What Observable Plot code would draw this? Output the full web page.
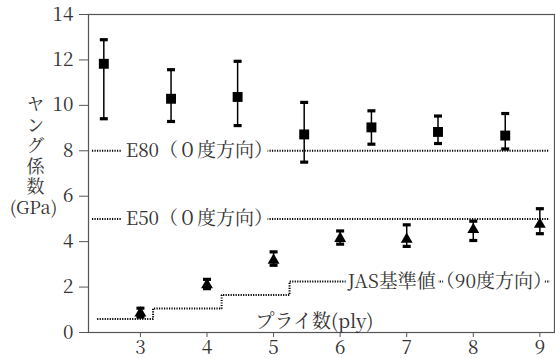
<!DOCTYPE html>
<html>
<head>
<meta charset="utf-8">
<script src="https://cdn.jsdelivr.net/npm/d3@7"></script>
<script src="https://cdn.jsdelivr.net/npm/@observablehq/plot@0.6"></script>
<style>
  html, body { margin: 0; padding: 0; background: #fff; }
  #chart svg { display: block; }
  #chart svg, #chart svg text {
    font-family: "Noto Serif CJK JP", "Liberation Serif", serif !important;
  }
</style>
</head>
<body>
<div id="chart"></div>
<script>
// ---- data ----
const xTicks = [3, 4, 5, 6, 7, 8, 9];
const yTicks = [0, 2, 4, 6, 8, 10, 12, 14];

// 0-degree direction (squares), slightly left of each ply
const sqX   = [2.45, 3.46, 4.46, 5.46, 6.47, 7.47, 8.48];
const sqY   = [11.83, 10.29, 10.37, 8.72, 9.03, 8.83, 8.67];
const sqLo  = [9.41, 9.29, 9.11, 7.5, 8.29, 8.32, 8.08];
const sqHi  = [12.89, 11.57, 11.94, 10.13, 9.76, 9.53, 9.64];

// 90-degree direction (triangles)
const triX  = [3, 4, 5, 6, 7, 8, 9];
const triY  = [0.85, 2.1, 3.18, 4.14, 4.1, 4.53, 4.76];
const triLo = [0.68, 1.93, 2.96, 3.89, 3.79, 4.05, 4.35];
const triHi = [1.07, 2.34, 3.55, 4.47, 4.74, 4.9, 5.45];

// reference lines E80 / E50 (0-degree)
const refNames  = ["E80（０度方向）", "E50（０度方向）"];
const refValues = [8, 5];
const refStart = 2.28, refEnd = 9.15, refLabelX = 2.78;

// JAS standard (90-degree), stepped
const jasX = [2.35, 3.19, 4.22, 5.24, 9.15];
const jasY = [0.59, 1.06, 1.65, 2.24, 2.24];
const jasName = "JAS基準値（90度方向）";
const jasLabelX = 6.11;

const yLabel = "ヤング係数";
const yUnit = "(GPa)";
const xLabel = "プライ数(ply)";

// ---- build ----
const squares = sqX.map((x, i) => ({x, y: sqY[i], lo: sqLo[i], hi: sqHi[i]}));
const triangles = triX.map((x, i) => ({x, y: triY[i], lo: triLo[i], hi: triHi[i]}));
const refs = refNames.map((name, i) => ({name, v: refValues[i]}));
const jas = jasX.map((x, i) => ({x, y: jasY[i]}));

const capSymbol = {
  draw(ctx) { ctx.rect(-4, -1.6, 8, 3.2); }
};

const dotted = {stroke: "black", strokeWidth: 2, strokeDasharray: "1.2,1.3", strokeLinecap: "butt", strokeLinejoin: "miter"};
const serif = "Noto Serif CJK JP, Liberation Serif, serif";
const ink = "#333";

const chart = Plot.plot({
  width: 555,
  height: 358,
  marginLeft: 88,
  marginRight: 1,
  marginTop: 14,
  marginBottom: 26,
  style: {fontFamily: serif, fontSize: "18px", color: ink, background: "white"},
  x: {domain: [2.22, 9.22], label: null},
  y: {domain: [0, 14], label: null},
  marks: [
    Plot.axisX({ticks: xTicks, tickFormat: "d", tickSize: 5, tickPadding: 3, fontSize: 19, stroke: "#555", fill: ink, label: null}),
    Plot.axisY({ticks: yTicks, tickFormat: "d", tickSize: 9, tickPadding: 6, fontSize: 19, stroke: "#555", fill: ink, label: null}),
    Plot.frame({stroke: "#555", strokeWidth: 1.2}),
    // reference lines
    Plot.ruleY(refs, {y: "v", x1: () => refStart, x2: () => refEnd, ...dotted}),
    Plot.line(jas, {x: "x", y: "y", curve: "step-after", ...dotted}),
    Plot.text(refs, {x: () => refLabelX, y: "v", text: "name", textAnchor: "start", fontSize: 19,
      fill: ink, stroke: "white", strokeWidth: 14}),
    Plot.text([jasName], {x: () => jasLabelX, y: () => jasY[jasY.length - 1], text: d => d,
      textAnchor: "start", fontSize: 19, fill: ink, stroke: "white", strokeWidth: 10}),
    // error bars
    Plot.ruleX(squares, {x: "x", y1: "lo", y2: "hi", stroke: "black", strokeWidth: 1.5}),
    Plot.ruleX(triangles, {x: "x", y1: "lo", y2: "hi", stroke: "black", strokeWidth: 1.5}),
    Plot.dot(squares, {x: "x", y: "lo", symbol: capSymbol, fill: "black", r: 3}),
    Plot.dot(squares, {x: "x", y: "hi", symbol: capSymbol, fill: "black", r: 3}),
    Plot.dot(triangles, {x: "x", y: "lo", symbol: capSymbol, fill: "black", r: 3}),
    Plot.dot(triangles, {x: "x", y: "hi", symbol: capSymbol, fill: "black", r: 3}),
    // markers
    Plot.dot(squares, {x: "x", y: "y", symbol: "square", r: 5.6, fill: "black"}),
    Plot.dot(triangles, {x: "x", y: "y", symbol: "triangle", r: 4.4, fill: "black"}),
    // axis titles
    Plot.text([yLabel], {text: d => d, frameAnchor: "left", dx: -53, dy: -27, textAnchor: "middle",
      fontSize: 18, fill: ink, ariaLabel: "ylabel"}),
    Plot.text([yUnit], {text: d => d, frameAnchor: "left", dx: -55, dy: 35, textAnchor: "middle",
      lineAnchor: "middle", fontSize: 18, fill: ink}),
    Plot.text([xLabel], {text: d => d, frameAnchor: "bottom", dx: -7, dy: -11, textAnchor: "middle",
      lineAnchor: "middle", fontSize: 19, fill: ink})
  ]
});

// set the y-axis title in vertical writing
d3.select(chart).selectAll("text")
  .filter(function () { return this.textContent === yLabel; })
  .attr("y", null)
  .attr("writing-mode", "vertical-rl")
  .style("letter-spacing", "2.5px")
  .style("dominant-baseline", "central");

document.getElementById("chart").appendChild(chart);
</script>
</body>
</html>
